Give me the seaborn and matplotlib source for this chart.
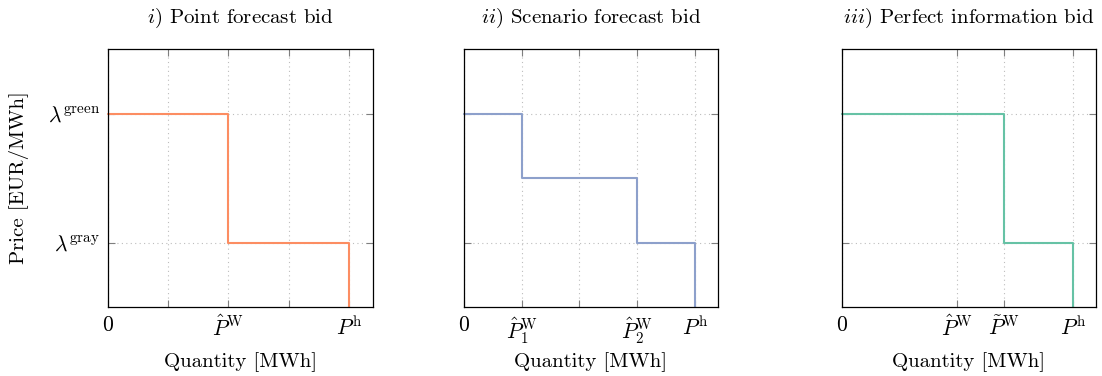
import matplotlib
matplotlib.use("Agg")
import matplotlib.pyplot as plt
import seaborn as sns
import pandas as pd

# Bid curves: quantity breakpoints and price level of each block
point_q = [0, 2, 4]
point_price = [3, 1]
scenario_q = [0, 1, 3, 4]
scenario_price = [3, 2, 1]
perfect_q = [0, 2.8, 4]
perfect_price = [3, 1]

titles = [r"$i)$ Point forecast bid",
          r"$ii)$ Scenario forecast bid",
          r"$iii)$ Perfect information bid"]

xtick_pos = [[0, 1, 2, 3, 4], [0, 1, 2, 3, 4], [0, 2, 2.8, 4]]
xtick_labels = [
    ["0", "", r"$\hat{P}^{\mathrm{W}}$", "", r"$P^{\mathrm{h}}$"],
    ["0", r"$\hat{P}_1^{\mathrm{W}}$", "", r"$\hat{P}_2^{\mathrm{W}}$", r"$P^{\mathrm{h}}$"],
    ["0", r"$\hat{P}^{\mathrm{W}}$", r"$\tilde{P}^{\mathrm{W}}$", r"$P^{\mathrm{h}}$"],
]
ytick_pos = [1, 3]
ytick_labels = [r"$\lambda^{\mathrm{gray}}$", r"$\lambda^{\mathrm{green}}$"]

sns.set_theme(style="white")
palette = sns.color_palette("Set2")
colors = [palette[1], palette[2], palette[0]]

plt.rcParams["font.family"] = ["cmr10", "DejaVu Serif"]
plt.rcParams["mathtext.fontset"] = "cm"
plt.rcParams["axes.formatter.use_mathtext"] = True
plt.rcParams["axes.unicode_minus"] = False
for key in ["text.color", "axes.labelcolor", "xtick.labelcolor", "ytick.labelcolor"]:
    plt.rcParams[key] = "black"


def step_frame(q, price):
    xs, ys = [], []
    for i, p in enumerate(price):
        xs += [q[i], q[i + 1]]
        ys += [p, p]
    xs.append(q[-1])
    ys.append(0)
    return pd.DataFrame({"quantity": xs, "price": ys})


W, H = 1102, 376
fig = plt.figure(figsize=(W / 100, H / 100), dpi=100)
boxes = [(108, 265), (464, 254), (842, 254)]
top_px, bot_px = 49, 307
ax_h = bot_px - top_px

curves = [(point_q, point_price), (scenario_q, scenario_price), (perfect_q, perfect_price)]
fs = 15
fs_tick = 15.5

for k, ((left, width), (q, price)) in enumerate(zip(boxes, curves)):
    ax = fig.add_axes([left / W, (H - bot_px) / H, width / W, ax_h / H])
    df = step_frame(q, price)
    sns.lineplot(data=df, x="quantity", y="price", sort=False, estimator=None,
                 color=colors[k], linewidth=1.5, ax=ax, zorder=3, clip_on=False)
    ax.set_xlim(0, 4.4)
    ax.set_ylim(0, 4)
    ax.set_xticks(xtick_pos[k])
    ax.set_xticklabels(xtick_labels[k], fontsize=fs_tick)
    ax.set_yticks(ytick_pos)
    if k == 0:
        ax.set_yticklabels(ytick_labels, fontsize=fs_tick)
        ax.set_ylabel("Price [EUR/MWh]", fontsize=fs)
        ax.yaxis.set_label_coords((29 - left) / width, 0.5)
    else:
        ax.set_yticklabels([])
        ax.set_ylabel("")
    ax.set_xlabel("Quantity [MWh]", fontsize=fs)
    ax.xaxis.set_label_coords(0.5, (bot_px - 352) / ax_h)
    ax.set_title(titles[k], fontsize=fs, pad=19)
    ax.grid(True, linestyle=(0, (1, 3)), color="#bdbdbd", linewidth=0.8)
    ax.tick_params(direction="in", length=5, width=0.8, color="#7f7f7f",
                   top=True, right=True, bottom=True, left=True, pad=6)
    for s in ax.spines.values():
        s.set_color("black")
        s.set_linewidth(0.9)
        s.set_zorder(4)

fig.savefig("out.png", dpi=100)
